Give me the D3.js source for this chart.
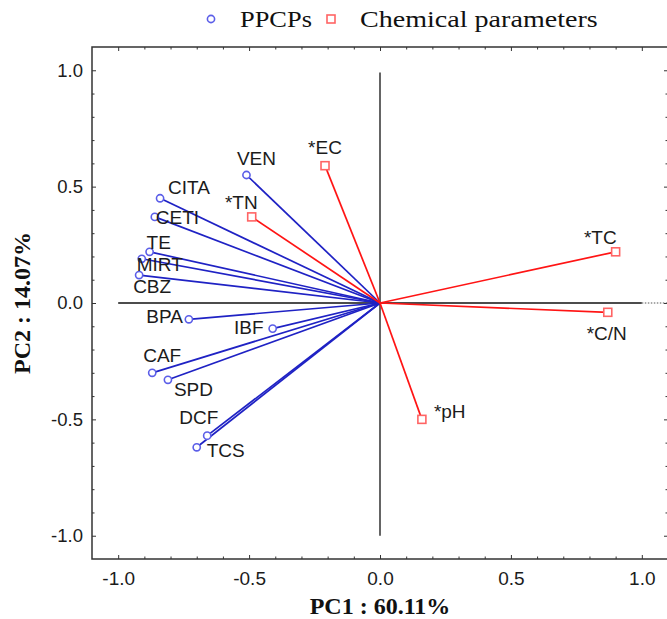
<!DOCTYPE html>
<html>
<head>
<meta charset="utf-8">
<script src="https://cdn.jsdelivr.net/npm/d3@7"></script>
<style>
  body { margin: 0; background: #fff; }
  svg { display: block; }
</style>
</head>
<body>
<div id="chart"></div>
<script>
// PCA loadings
const ppcpNames = ["VEN", "CITA", "CETI", "TE", "MIRT", "CBZ", "BPA", "IBF", "CAF", "SPD", "DCF", "TCS"]
const ppcpPC1 = [-0.51, -0.84, -0.86, -0.88, -0.91, -0.92, -0.73, -0.41, -0.87, -0.81, -0.66, -0.70]
const ppcpPC2 = [0.55, 0.45, 0.37, 0.22, 0.19, 0.12, -0.07, -0.11, -0.30, -0.33, -0.57, -0.62]

const chemNames = ["*EC", "*TN", "*TC", "*C/N", "*pH"]
const chemPC1 = [-0.21, -0.49, 0.90, 0.87, 0.16]
const chemPC2 = [0.59, 0.37, 0.22, -0.04, -0.50]

const tickValues = [-1.0, -0.5, 0.0, 0.5, 1.0]
const legendLabels = ["PPCPs", "Chemical parameters"]
const xTitle = "PC1 : 60.11%"
const yTitle = "PC2 : 14.07%"

// where each label sits relative to its point: [dx, dy, anchor]
const labelPos = {
    "VEN": [10, -10, "middle"],
    "CITA": [8, -4, "start"],
    "CETI": [1, 7, "start"],
    "TE": [-3, -3, "start"],
    "MIRT": [-5, 12, "start"],
    "CBZ": [-6, 18, "start"],
    "BPA": [-6, 4, "end"],
    "IBF": [-9, 5, "end"],
    "CAF": [-9, -11, "start"],
    "SPD": [6, 16, "start"],
    "DCF": [-28, -12, "start"],
    "TCS": [10, 10, "start"],
    "*EC": [0, -12, "middle"],
    "*TN": [6, -8, "end"],
    "*TC": [1, -8, "end"],
    "*C/N": [-1, 28, "middle"],
    "*pH": [12, -1, "start"]
}

const width = 667
const height = 619
const blueLine = "#1f22c4"
const blueMark = "#5b5ee8"
const redLine = "#ff1414"
const redMark = "#ff6464"
const textColor = "#1b1b1b"

const ppcps = ppcpNames.map((n, i) => ({name: n, x: ppcpPC1[i], y: ppcpPC2[i]}))
const chems = chemNames.map((n, i) => ({name: n, x: chemPC1[i], y: chemPC2[i]}))

const svg = d3.select('#chart')
    .append('svg')
    .attr('width', width)
    .attr('height', height)

const xScale = d3.scaleLinear().domain([-1.1, 1.1]).range([92, 668])
const yScale = d3.scaleLinear().domain([-1.1, 1.1]).range([559, 47])

const minorTicks = d3.range(-10, 11).map(i => i / 10).filter(v => Math.abs(v * 2 - Math.round(v * 2)) > 1e-6)
const fmt = d => d.toFixed(1)

// ticks on all four sides, pointing inward
const axisStyle = g => {
    g.select('.domain').remove()
    g.selectAll('line').attr('stroke', '#333')
    g.selectAll('text')
        .attr('fill', textColor)
        .attr('font-family', 'Liberation Sans, Arial, sans-serif')
}

svg.append('g')
    .attr('transform', `translate(0,${yScale(-1.1)})`)
    .call(d3.axisBottom(xScale).tickValues(tickValues).tickFormat(fmt).tickSize(-4).tickPadding(13))
    .call(axisStyle)
    .selectAll('text').attr('font-size', 19)
svg.append('g')
    .attr('transform', `translate(0,${yScale(-1.1)})`)
    .call(d3.axisBottom(xScale).tickValues(minorTicks).tickFormat('').tickSize(-2.5))
    .call(axisStyle)

svg.append('g')
    .attr('transform', `translate(${xScale(-1.1)},0)`)
    .call(d3.axisLeft(yScale).tickValues(tickValues).tickFormat(fmt).tickSize(-4).tickPadding(9))
    .call(axisStyle)
    .selectAll('text').attr('font-size', 18.5)
svg.append('g')
    .attr('transform', `translate(${xScale(-1.1)},0)`)
    .call(d3.axisLeft(yScale).tickValues(minorTicks).tickFormat('').tickSize(-2.5))
    .call(axisStyle)

svg.append('g')
    .attr('transform', `translate(0,${yScale(1.1)})`)
    .call(d3.axisTop(xScale).tickValues(tickValues).tickFormat('').tickSize(-4))
    .call(axisStyle)
svg.append('g')
    .attr('transform', `translate(0,${yScale(1.1)})`)
    .call(d3.axisTop(xScale).tickValues(minorTicks).tickFormat('').tickSize(-2.5))
    .call(axisStyle)

svg.append('g')
    .attr('transform', `translate(${xScale(1.1)},0)`)
    .call(d3.axisRight(yScale).tickValues(tickValues).tickFormat('').tickSize(-4))
    .call(axisStyle)
svg.append('g')
    .attr('transform', `translate(${xScale(1.1)},0)`)
    .call(d3.axisRight(yScale).tickValues(minorTicks).tickFormat('').tickSize(-2.5))
    .call(axisStyle)

// frame
svg.append('rect')
    .attr('x', xScale(-1.1))
    .attr('y', yScale(1.1))
    .attr('width', xScale(1.1) - xScale(-1.1))
    .attr('height', yScale(-1.1) - yScale(1.1))
    .attr('fill', 'none')
    .attr('stroke', '#333')
    .attr('stroke-width', 1.5)

// zero lines
svg.append('line')
    .attr('x1', xScale(-1)).attr('x2', xScale(1))
    .attr('y1', yScale(0)).attr('y2', yScale(0))
    .attr('stroke', '#111').attr('stroke-width', 1.3)
svg.append('line')
    .attr('x1', xScale(1)).attr('x2', xScale(1.1))
    .attr('y1', yScale(0)).attr('y2', yScale(0))
    .attr('stroke', '#555').attr('stroke-width', 1.2)
    .attr('stroke-dasharray', '1.5,1.5')
svg.append('line')
    .attr('x1', xScale(0)).attr('x2', xScale(0))
    .attr('y1', yScale(0.99)).attr('y2', yScale(-1))
    .attr('stroke', '#111').attr('stroke-width', 1.3)

// loading vectors
svg.append('g').selectAll('line')
    .data(ppcps)
    .enter()
    .append('line')
    .attr('x1', xScale(0)).attr('y1', yScale(0))
    .attr('x2', d => xScale(d.x)).attr('y2', d => yScale(d.y))
    .attr('stroke', blueLine)
    .attr('stroke-width', 1.7)

svg.append('g').selectAll('line')
    .data(chems)
    .enter()
    .append('line')
    .attr('x1', xScale(0)).attr('y1', yScale(0))
    .attr('x2', d => xScale(d.x)).attr('y2', d => yScale(d.y))
    .attr('stroke', redLine)
    .attr('stroke-width', 1.7)

svg.append('g').selectAll('circle')
    .data(ppcps)
    .enter()
    .append('circle')
    .attr('cx', d => xScale(d.x))
    .attr('cy', d => yScale(d.y))
    .attr('r', 3.6)
    .attr('fill', '#fff')
    .attr('stroke', blueMark)
    .attr('stroke-width', 1.6)

svg.append('g').selectAll('rect')
    .data(chems)
    .enter()
    .append('rect')
    .attr('x', d => xScale(d.x) - 4)
    .attr('y', d => yScale(d.y) - 4)
    .attr('width', 8)
    .attr('height', 8)
    .attr('fill', '#fff')
    .attr('stroke', redMark)
    .attr('stroke-width', 1.6)

// point labels
svg.append('g').selectAll('text')
    .data(ppcps.concat(chems))
    .enter()
    .append('text')
    .attr('x', d => xScale(d.x) + labelPos[d.name][0])
    .attr('y', d => yScale(d.y) + labelPos[d.name][1])
    .attr('text-anchor', d => labelPos[d.name][2])
    .attr('font-family', 'Liberation Sans, Arial, sans-serif')
    .attr('font-size', 19)
    .attr('fill', textColor)
    .text(d => d.name)

// axis titles
svg.append('text')
    .attr('x', xScale(0))
    .attr('y', 614)
    .attr('text-anchor', 'middle')
    .attr('font-family', 'Liberation Serif, Times New Roman, serif')
    .attr('font-weight', 'bold')
    .attr('font-size', 24)
    .attr('fill', '#111')
    .text(xTitle)

svg.append('text')
    .attr('transform', `translate(30,${yScale(0)}) rotate(-90)`)
    .attr('text-anchor', 'middle')
    .attr('font-family', 'Liberation Serif, Times New Roman, serif')
    .attr('font-weight', 'bold')
    .attr('font-size', 24)
    .attr('fill', '#111')
    .text(yTitle)

// legend
const legend = svg.append('g')
legend.append('circle')
    .attr('cx', 211).attr('cy', 19).attr('r', 3.6)
    .attr('fill', '#fff').attr('stroke', blueMark).attr('stroke-width', 1.6)
legend.append('rect')
    .attr('x', 327).attr('y', 15).attr('width', 8).attr('height', 8)
    .attr('fill', '#fff').attr('stroke', redMark).attr('stroke-width', 1.6)
legend.selectAll('text')
    .data(legendLabels)
    .enter()
    .append('text')
    .attr('transform', (d, i) => `translate(${i === 0 ? 240 : 360},27) scale(${i === 0 ? 1.1 : 1.17},1)`)
    .attr('font-family', 'Liberation Serif, Times New Roman, serif')
    .attr('font-size', 24)
    .attr('fill', '#111')
    .text(d => d)
</script>
</body>
</html>
